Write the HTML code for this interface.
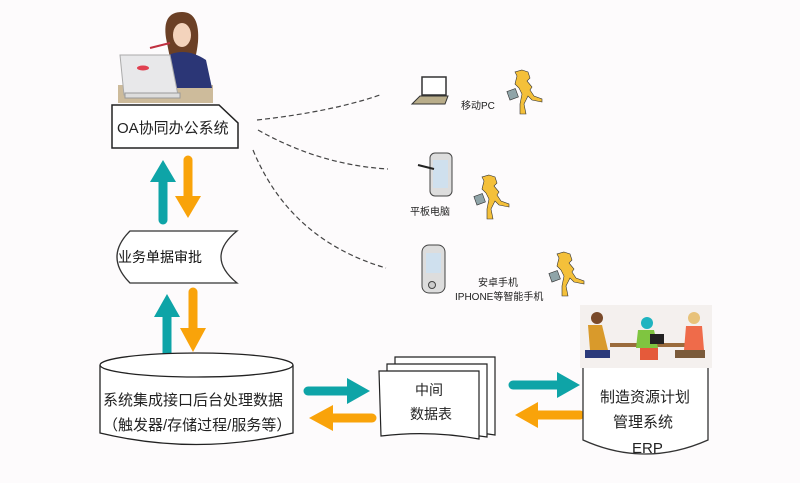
<!DOCTYPE html>
<html><head><meta charset="utf-8"><style>
html,body{margin:0;padding:0;background:#fdfbfc;}
svg{display:block;font-family:"Liberation Sans","Noto Sans CJK SC",sans-serif;}
</style></head><body>
<svg width="800" height="483" viewBox="0 0 800 483" xmlns="http://www.w3.org/2000/svg">
<defs>
<g id="runner">
 <path d="M14 0 l6 2 l2 6 l-3 3 l5 6 l-2 3 l4 6 l8 3 l0 3 l-10 -2 l-4 -4 l-4 8 l2 10 l-6 0 l0 -10 l2 -10 l-3 -6 l-4 -4 l2 -8 l-2 -4 z" fill="#f4c03a" stroke="#333" stroke-width="0.6"/>
 <rect x="0" y="20" width="9" height="9" fill="#8fa4a8" stroke="#333" stroke-width="0.6" transform="rotate(-20 4 24)"/>
</g>
</defs>
<rect width="800" height="483" fill="#fdfbfc"/>

<!-- woman at laptop -->
<rect x="118" y="85" width="95" height="18" fill="#cdbb9b"/>
<path d="M166 38 q-4 -26 16 -26 q18 0 16 30 q-2 18 -6 22 l-8 -6 l-14 0z" fill="#6b4026"/>
<ellipse cx="182" cy="35" rx="9" ry="12" fill="#f3d3bc"/>
<path d="M160 60 q22 -16 46 0 l6 28 l-56 0z" fill="#2b3676"/>
<path d="M120 55 l50 0 l8 40 l-54 0z" fill="#e8e8ea" stroke="#aaa"/>
<ellipse cx="143" cy="68" rx="6" ry="2.5" fill="#e04050"/>
<rect x="125" y="93" width="55" height="5" fill="#ddd" stroke="#999"/>
<path d="M150 48 l20 -5" stroke="#c03040" stroke-width="2"/>

<!-- OA box -->
<path d="M112 105 L219 105 L238 123 L238 148 L112 148 Z" fill="#fff" stroke="#222" stroke-width="1.5"/>
<text x="117" y="133" font-size="15" fill="#222">OA协同办公系统</text>

<!-- dashed curves -->
<g fill="none" stroke="#444" stroke-width="1.2" stroke-dasharray="5,3">
<path d="M257 120 Q330 112 380 95"/>
<path d="M258 130 Q320 165 388 169"/>
<path d="M253 150 Q290 240 386 268"/>
</g>

<!-- arrows top -->
<g stroke-linecap="round">
<line x1="163" y1="220" x2="163" y2="180" stroke="#0ea4a7" stroke-width="9"/>
<polygon points="150,182 176,182 163,160" fill="#0ea4a7"/>
<line x1="188" y1="160" x2="188" y2="198" stroke="#f9a30a" stroke-width="9"/>
<polygon points="175,196 201,196 188,218" fill="#f9a30a"/>
<line x1="167" y1="357" x2="167" y2="315" stroke="#0ea4a7" stroke-width="9"/>
<polygon points="154,317 180,317 167,294" fill="#0ea4a7"/>
<line x1="193" y1="292" x2="193" y2="330" stroke="#f9a30a" stroke-width="9"/>
<polygon points="180,328 206,328 193,352" fill="#f9a30a"/>
</g>

<!-- 业务单据审批 -->
<path d="M130 231 L237 231 Q205 257 237 283 L130 283 Q104 257 130 231 Z" fill="#fff" stroke="#333" stroke-width="1.3"/>
<text x="118" y="262" font-size="14" fill="#111">业务单据审批</text>

<!-- cylinder -->
<path d="M100 365 L100 433 Q196 456 293 433 L293 365" fill="#fff" stroke="#222" stroke-width="1.3"/>
<ellipse cx="196.5" cy="365" rx="96.5" ry="12" fill="#fff" stroke="#222" stroke-width="1.3"/>
<text x="103" y="405" font-size="15" fill="#222">系统集成接口后台处理数据</text>
<text x="103" y="430" font-size="15" fill="#222">（触发器/存储过程/服务等）</text>

<!-- horizontal arrows -->
<g stroke-linecap="round">
<line x1="308" y1="391" x2="350" y2="391" stroke="#0ea4a7" stroke-width="9"/>
<polygon points="347,378 347,404 370,391" fill="#0ea4a7"/>
<line x1="372" y1="418" x2="330" y2="418" stroke="#f9a30a" stroke-width="9"/>
<polygon points="333,405 333,431 309,418" fill="#f9a30a"/>
<line x1="513" y1="385" x2="560" y2="385" stroke="#0ea4a7" stroke-width="9"/>
<polygon points="557,372 557,398 580,385" fill="#0ea4a7"/>
<line x1="580" y1="415" x2="535" y2="415" stroke="#f9a30a" stroke-width="9"/>
<polygon points="538,402 538,428 515,415" fill="#f9a30a"/>
</g>

<!-- document stack -->
<g fill="#fff" stroke="#222" stroke-width="1.2">
<path d="M395 357 L495 357 L495 435 Q445 428 395 420Z"/>
<path d="M387 364 L487 364 L487 437 Q437 430 387 424Z"/>
<path d="M379 371 L479 371 L479 439 Q430 430 381 436Z"/>
</g>
<text x="415" y="395" font-size="14" fill="#222">中间</text>
<text x="410" y="419" font-size="14" fill="#222">数据表</text>

<!-- ERP -->
<rect x="580" y="305" width="132" height="63" fill="#f4f0ee"/>
<rect x="610" y="343" width="80" height="4" fill="#9a6b3c"/>
<circle cx="597" cy="318" r="6" fill="#7a4a2a"/><path d="M588 325 l14 0 l6 25 l-18 0z" fill="#d99a2b"/><rect x="585" y="350" width="25" height="8" fill="#2b3a7a"/>
<circle cx="647" cy="323" r="6" fill="#1fb4c0"/><path d="M638 330 l16 0 l4 18 l-22 0z" fill="#7fc540"/><rect x="640" y="348" width="18" height="12" fill="#e55a3a"/>
<rect x="650" y="334" width="14" height="10" fill="#222"/>
<circle cx="694" cy="318" r="6" fill="#e8c27a"/><path d="M686 326 l16 0 l2 24 l-20 0z" fill="#ef6b4a"/><rect x="675" y="350" width="30" height="8" fill="#7a5a3a"/>
<path d="M583 368 L583 440 Q645 468 708 440 L708 368" fill="#fff" stroke="#333" stroke-width="1.3"/>
<text x="600" y="402" font-size="15" fill="#222">制造资源计划</text>
<text x="613" y="427" font-size="15" fill="#222">管理系统</text>
<text x="632" y="453" font-size="15" fill="#222">ERP</text>

<!-- devices -->
<rect x="422" y="77" width="24" height="18" fill="#fff" stroke="#333" stroke-width="1.5"/>
<path d="M412 104 L420 96 L448 96 L445 104Z" fill="#b9ad8a" stroke="#333"/>
<text x="461" y="109" font-size="10" fill="#222">移动PC</text>
<use href="#runner" x="508" y="70"/>

<rect x="430" y="153" width="22" height="43" rx="5" fill="#ddd" stroke="#444"/>
<rect x="433" y="160" width="15" height="28" fill="#cfe0ee"/>
<line x1="418" y1="165" x2="434" y2="169" stroke="#222" stroke-width="2"/>
<text x="410" y="215" font-size="10" fill="#222">平板电脑</text>
<use href="#runner" x="475" y="175"/>

<rect x="422" y="245" width="23" height="48" rx="7" fill="#ddd" stroke="#444"/>
<rect x="426" y="253" width="15" height="20" fill="#cfe0ee"/>
<circle cx="432" cy="285" r="3.5" fill="#ccc" stroke="#444"/>
<text x="478" y="286" font-size="10" fill="#222">安卓手机</text>
<text x="455" y="300" font-size="10" fill="#222">IPHONE等智能手机</text>
<use href="#runner" x="550" y="252"/>
</svg>
</body></html>
